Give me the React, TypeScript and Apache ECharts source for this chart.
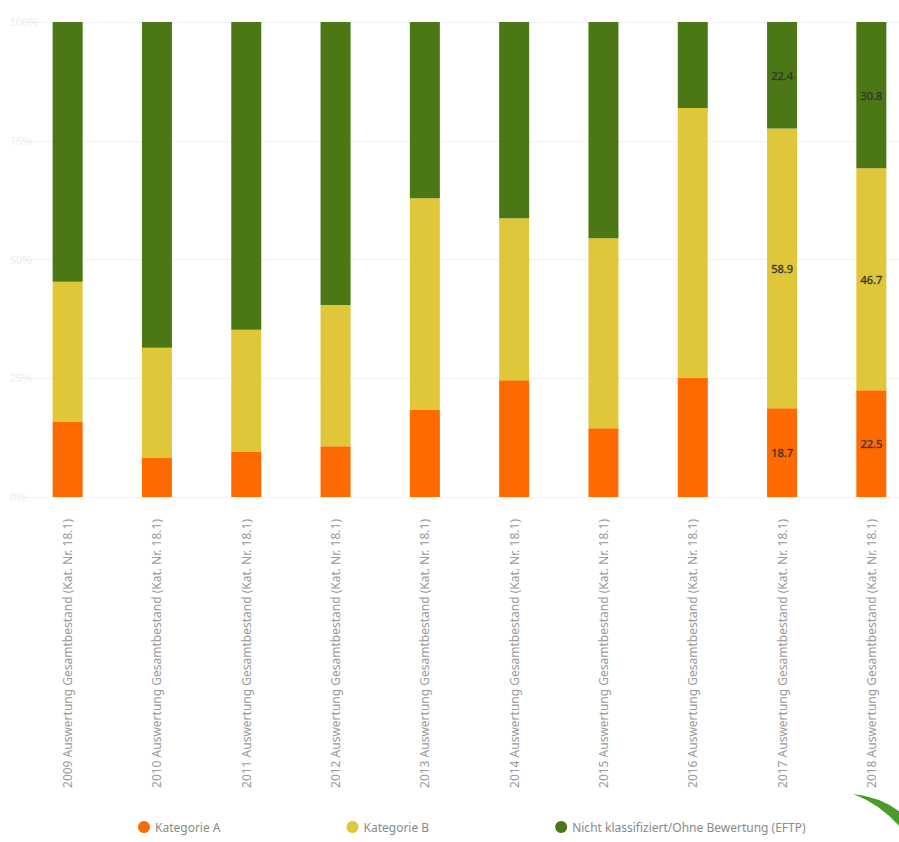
import React, { useEffect, useRef } from "react";
import * as echarts from "echarts";

// Period labels along the x axis
const categories = [
  "2009 Auswertung Gesamtbestand (Kat. Nr. 18.1)",
  "2010 Auswertung Gesamtbestand (Kat. Nr. 18.1)",
  "2011 Auswertung Gesamtbestand (Kat. Nr. 18.1)",
  "2012 Auswertung Gesamtbestand (Kat. Nr. 18.1)",
  "2013 Auswertung Gesamtbestand (Kat. Nr. 18.1)",
  "2014 Auswertung Gesamtbestand (Kat. Nr. 18.1)",
  "2015 Auswertung Gesamtbestand (Kat. Nr. 18.1)",
  "2016 Auswertung Gesamtbestand (Kat. Nr. 18.1)",
  "2017 Auswertung Gesamtbestand (Kat. Nr. 18.1)",
  "2018 Auswertung Gesamtbestand (Kat. Nr. 18.1)",
];

const seriesNames = ["Kategorie A", "Kategorie B", "Nicht klassifiziert/Ohne Bewertung (EFTP)"];

// Shares in percent, stacked to 100
const categoryA = [15.8, 8.2, 9.5, 10.7, 18.3, 24.6, 14.5, 25.1, 18.7, 22.5];
const categoryB = [29.5, 23.2, 25.7, 29.7, 44.6, 34.1, 40.0, 56.8, 58.9, 46.7];
const unclassified = [54.7, 68.6, 64.8, 59.6, 37.1, 41.3, 45.5, 18.1, 22.4, 30.8];

// Only the two latest periods carry value labels
const labelledFrom = 8;

const colors = ["#ff6a00", "#e0c73a", "#4b7715"];

// Green leaf stroke in the lower right corner
const leafPath = "M0,0 Q28,3 47,18 L47,33 Q27,10 0,0 Z";
echarts.graphic.registerShape("leaf", echarts.graphic.extendPath(leafPath, {}) as any);

export default function App() {
  const ref = useRef<HTMLDivElement>(null);

  useEffect(() => {
    if (!ref.current) return;
    const chart = echarts.init(ref.current, undefined, { renderer: "svg" });

    const makeData = (vals: number[]) =>
      vals.map((v, i) => ({
        value: v,
        label: { show: i >= labelledFrom },
      }));

    const barLabel = {
      position: "inside" as const,
      color: "#333",
      fontSize: 11,
      fontFamily: "Noto Sans",
      formatter: (p: any) => Number(p.value).toFixed(1),
      textBorderColor: "rgba(60,60,60,0.35)",
      textBorderWidth: 1,
    };

    chart.setOption({
      animation: false,
      color: colors,
      grid: {
        left: 23,
        top: 22,
        right: 24,
        bottom: 345,
        containLabel: false,
        outerBoundsMode: "none",
      },
      legend: {
        left: 133,
        top: 816,
        icon: "circle",
        itemWidth: 12,
        itemHeight: 12,
        itemGap: 126,
        textStyle: { color: "#8a8a8a", fontSize: 12, fontFamily: "Noto Sans" },
        data: seriesNames,
      },
      xAxis: {
        type: "category",
        data: categories,
        axisLine: { show: false },
        axisTick: { show: false },
        axisLabel: {
          rotate: 90,
          margin: 22,
          color: "#9a9a9a",
          fontSize: 12,
          fontFamily: "Noto Sans",
          interval: 0,
        },
      },
      yAxis: {
        type: "value",
        min: 0,
        max: 100,
        interval: 25,
        axisLine: { show: false },
        axisTick: { show: false },
        axisLabel: {
          color: "#ececec",
          fontSize: 11,
          formatter: "{value}%",
          align: "left",
          margin: 13,
        },
        splitLine: { lineStyle: { color: "#f2f2f2" } },
      },
      series: [
        { name: seriesNames[0], type: "bar", stack: "share", barWidth: 30, data: makeData(categoryA), label: barLabel },
        { name: seriesNames[1], type: "bar", stack: "share", barWidth: 30, data: makeData(categoryB), label: barLabel },
        { name: seriesNames[2], type: "bar", stack: "share", barWidth: 30, data: makeData(unclassified), label: barLabel },
      ],
      graphic: [
        {
          type: "leaf",
          x: 853,
          y: 794,
          scaleX: 1,
          scaleY: 1,
          style: { fill: "#4a9b2a" },
          silent: true,
        },
      ],
    });

    return () => chart.dispose();
  }, []);

  return (
    <div
      style={{ position: "fixed", left: 0, top: 0, width: 899, height: 842, overflow: "hidden", background: "#fff" }}
    >
      <div ref={ref} style={{ width: 940, height: 842 }} />
    </div>
  );
}
